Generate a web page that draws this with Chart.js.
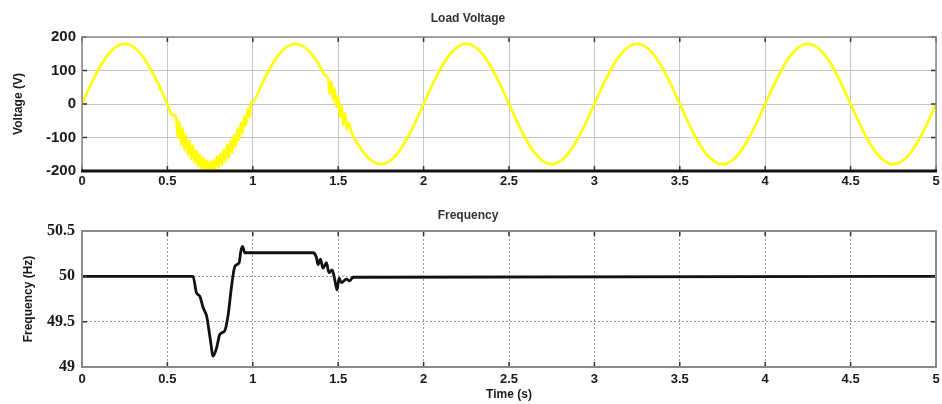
<!DOCTYPE html>
<html>
<head>
<meta charset="utf-8">
<script src="https://cdn.jsdelivr.net/npm/chart.js@4.4.1/dist/chart.umd.min.js"></script>
<style>
  body { margin: 0; background: #fff; }
  #topBox { position: absolute; left: 0; top: 0; width: 942px; height: 192px; }
  #botBox { position: absolute; left: 0; top: 196px; width: 942px; height: 208px; }
</style>
</head>
<body>
<div id="topBox"><canvas id="voltageChart" width="942" height="192"></canvas></div>
<div id="botBox"><canvas id="freqChart" width="942" height="208"></canvas></div>
<script>
// Tick values
const timeTicks = [0, 0.5, 1, 1.5, 2, 2.5, 3, 3.5, 4, 4.5, 5];
const voltageTicks = [-200, -100, 0, 100, 200];
const freqTicks = [49, 49.5, 50, 50.5];

// Load voltage (s, V), noisy parts around 0.55-1.0 s and 1.45-1.55 s
const voltageTime = [
  0, 0.05, 0.1, 0.15, 0.2, 0.25, 0.3, 0.35, 0.4, 0.45, 0.5, 0.53,
  0.55, 0.56, 0.57, 0.58, 0.59, 0.6, 0.61, 0.62, 0.63, 0.64, 0.65, 0.66, 0.67, 0.68, 0.69,
  0.7, 0.71, 0.72, 0.73, 0.74, 0.75, 0.76, 0.77, 0.78, 0.79, 0.8, 0.81, 0.82, 0.83, 0.84,
  0.85, 0.86, 0.87, 0.88, 0.89, 0.9, 0.91, 0.92, 0.93, 0.94, 0.95, 0.96, 0.97, 0.98, 0.99, 1,
  1.05, 1.1, 1.15, 1.2, 1.25, 1.3, 1.35, 1.4, 1.42,
  1.44, 1.45, 1.46, 1.47, 1.48, 1.49, 1.5, 1.51, 1.52, 1.53, 1.54, 1.55, 1.56, 1.58,
  1.6, 1.65, 1.7, 1.75, 1.8, 1.85, 1.9, 1.95,
  2, 2.05, 2.1, 2.15, 2.2, 2.25, 2.3, 2.35, 2.4, 2.45, 2.5, 2.55, 2.6, 2.65, 2.7, 2.75, 2.8, 2.85, 2.9, 2.95,
  3, 3.05, 3.1, 3.15, 3.2, 3.25, 3.3, 3.35, 3.4, 3.45, 3.5, 3.55, 3.6, 3.65, 3.7, 3.75, 3.8, 3.85, 3.9, 3.95,
  4, 4.05, 4.1, 4.15, 4.2, 4.25, 4.3, 4.35, 4.4, 4.45, 4.5, 4.55, 4.6, 4.65, 4.7, 4.75, 4.8, 4.85, 4.9, 4.95,
  5
];
const voltageValues = [
  0, 56, 106, 146, 171, 180, 171, 146, 106, 56, 0, -34,
  -34, -100, -52, -122, -72, -138, -92, -152, -110, -165, -124, -176, -138, -186, -150,
  -194, -160, -198, -168, -200, -172, -199, -166, -196, -156, -190, -148, -182, -136, -172,
  -122, -160, -108, -145, -92, -128, -74, -108, -55, -86, -36, -64, -14, -40, 4, 6,
  56, 106, 146, 171, 180, 171, 146, 106, 87,
  80, 30, 66, 12, 46, -10, 22, -38, -4, -62, -28, -76, -56, -87,
  -106, -146, -171, -180, -171, -146, -106, -56,
  0, 56, 106, 146, 171, 180, 171, 146, 106, 56, 0, -56, -106, -146, -171, -180, -171, -146, -106, -56,
  0, 56, 106, 146, 171, 180, 171, 146, 106, 56, 0, -56, -106, -146, -171, -180, -171, -146, -106, -56,
  0, 56, 106, 146, 171, 180, 171, 146, 106, 56, 0, -56, -106, -146, -171, -180, -171, -146, -106, -56,
  0
];

// Frequency (s, Hz)
const freqTime = [
  0, 0.65, 0.67, 0.69, 0.71, 0.73, 0.75, 0.768, 0.788, 0.807,
  0.836, 0.856, 0.875, 0.895, 0.92, 0.93, 0.94, 0.953, 0.97, 1.353,
  1.372, 1.382, 1.396, 1.411, 1.431, 1.446, 1.464, 1.48, 1.493, 1.505,
  1.519, 1.548, 1.567, 1.587, 5
];
const freqValues = [
  50, 50, 49.82, 49.78, 49.65, 49.56, 49.32, 49.12, 49.21, 49.36,
  49.40, 49.58, 49.88, 50.11, 50.15, 50.28, 50.33, 50.26, 50.26, 50.26,
  50.21, 50.13, 50.19, 50.09, 50.15, 50.04, 50.07, 49.96, 49.85, 49.98,
  49.93, 49.97, 49.95, 49.99, 50
];

const sans = 'Arial, "Liberation Sans", sans-serif';
const serif = '"Times New Roman", "Liberation Serif", serif';
const plain = v => String(v);

// MATLAB-like box: inner tick marks + frame round the plot area
const matlabFrame = {
  id: 'matlabFrame',
  afterDatasetsDraw(chart, args, opts) {
    const { ctx, chartArea: a, scales } = chart;
    ctx.save();
    ctx.strokeStyle = opts.tickColor;
    ctx.lineWidth = 1.5;
    ctx.beginPath();
    scales.x.ticks.forEach(t => {
      const px = scales.x.getPixelForValue(t.value);
      ctx.moveTo(px, a.top); ctx.lineTo(px, a.top + 5);
      ctx.moveTo(px, a.bottom); ctx.lineTo(px, a.bottom - 5);
    });
    scales.y.ticks.forEach(t => {
      const py = scales.y.getPixelForValue(t.value);
      ctx.moveTo(a.left, py); ctx.lineTo(a.left + 5, py);
      ctx.moveTo(a.right, py); ctx.lineTo(a.right - 5, py);
    });
    ctx.stroke();
    ctx.strokeStyle = opts.color;
    ctx.lineWidth = opts.width;
    ctx.strokeRect(a.left, a.top, a.right - a.left, a.bottom - a.top);
    if (opts.bottomWidth) {
      ctx.strokeStyle = opts.bottomColor;
      ctx.lineWidth = opts.bottomWidth;
      ctx.beginPath();
      ctx.moveTo(a.left - 1, a.bottom);
      ctx.lineTo(a.right + 1, a.bottom);
      ctx.stroke();
    }
    ctx.restore();
  }
};

function xScale(withTitle) {
  return {
    type: 'linear',
    min: 0,
    max: 5,
    afterBuildTicks: s => { s.ticks = timeTicks.map(v => ({ value: v })); },
    afterFit: s => {
      s.height = withTitle ? 37 : 21;
      s.paddingLeft = 0;
      s.paddingRight = 0;
    },
    ticks: {
      callback: plain,
      color: '#1a1a1a',
      font: { family: sans, size: 13, weight: 'bold' },
      padding: withTitle ? 5 : 3,
      maxRotation: 0
    },
    grid: { color: withTitle ? '#9a9a9a' : '#c6c6c6', drawTicks: false },
    border: { display: false, dash: withTitle ? [2, 2] : [] },
    title: {
      display: withTitle,
      text: 'Time (s)',
      color: '#1a1a1a',
      font: { family: sans, size: 12, weight: 'bold' },
      padding: { top: 0, bottom: 2 }
    }
  };
}

new Chart(document.getElementById('voltageChart'), {
  type: 'line',
  data: {
    datasets: [{
      label: 'Load Voltage',
      data: voltageTime.map((t, i) => ({ x: t, y: voltageValues[i] })),
      borderColor: '#ffff00',
      borderWidth: 2.6,
      pointRadius: 0,
      cubicInterpolationMode: 'monotone',
      fill: false
    }]
  },
  options: {
    responsive: false,
    animation: false,
    layout: { padding: { left: 0, right: 6, top: 0, bottom: 0 } },
    plugins: {
      legend: { display: false },
      tooltip: { enabled: false },
      title: {
        display: true,
        text: 'Load Voltage',
        color: '#333',
        font: { family: sans, size: 12, weight: 'bold' },
        padding: { top: 11, bottom: 11.6 }
      },
      matlabFrame: { color: '#8a8a8a', width: 1.5, tickColor: '#333', bottomColor: '#111', bottomWidth: 3 }
    },
    scales: {
      x: xScale(false),
      y: {
        min: -200,
        max: 200,
        afterBuildTicks: s => { s.ticks = voltageTicks.map(v => ({ value: v })); },
        afterFit: s => { s.width = 82; },
        ticks: {
          callback: plain,
          color: '#1a1a1a',
          font: { family: sans, size: 15, weight: 'bold' },
          padding: 6
        },
        grid: { color: '#c6c6c6', drawTicks: false },
        border: { display: false },
        title: {
          display: true,
          text: 'Voltage (V)',
          color: '#1a1a1a',
          font: { family: sans, size: 12, weight: 'bold' },
          padding: { top: 11, bottom: 0 }
        }
      }
    }
  },
  plugins: [matlabFrame]
});

new Chart(document.getElementById('freqChart'), {
  type: 'line',
  data: {
    datasets: [{
      label: 'Frequency',
      data: freqTime.map((t, i) => ({ x: t, y: freqValues[i] })),
      borderColor: '#111',
      borderWidth: 2.8,
      pointRadius: 0,
      cubicInterpolationMode: 'monotone',
      fill: false
    }]
  },
  options: {
    responsive: false,
    animation: false,
    layout: { padding: { left: 0, right: 6, top: 0, bottom: 0 } },
    plugins: {
      legend: { display: false },
      tooltip: { enabled: false },
      title: {
        display: true,
        text: 'Frequency',
        color: '#333',
        font: { family: sans, size: 12, weight: 'bold' },
        padding: { top: 12, bottom: 8.6 }
      },
      matlabFrame: { color: '#8a8a8a', width: 2, tickColor: '#333' }
    },
    scales: {
      x: xScale(true),
      y: {
        min: 49,
        max: 50.5,
        afterBuildTicks: s => { s.ticks = freqTicks.map(v => ({ value: v })); },
        afterFit: s => { s.width = 82; },
        ticks: {
          callback: plain,
          color: '#1a1a1a',
          font: { family: serif, size: 16, weight: 'bold' },
          padding: 7
        },
        grid: { color: '#9a9a9a', drawTicks: false },
        border: { display: false, dash: [2, 2] },
        title: {
          display: true,
          text: 'Frequency (Hz)',
          color: '#1a1a1a',
          font: { family: sans, size: 12, weight: 'bold' },
          padding: { top: 21, bottom: 0 }
        }
      }
    }
  },
  plugins: [matlabFrame]
});
</script>
</body>
</html>
